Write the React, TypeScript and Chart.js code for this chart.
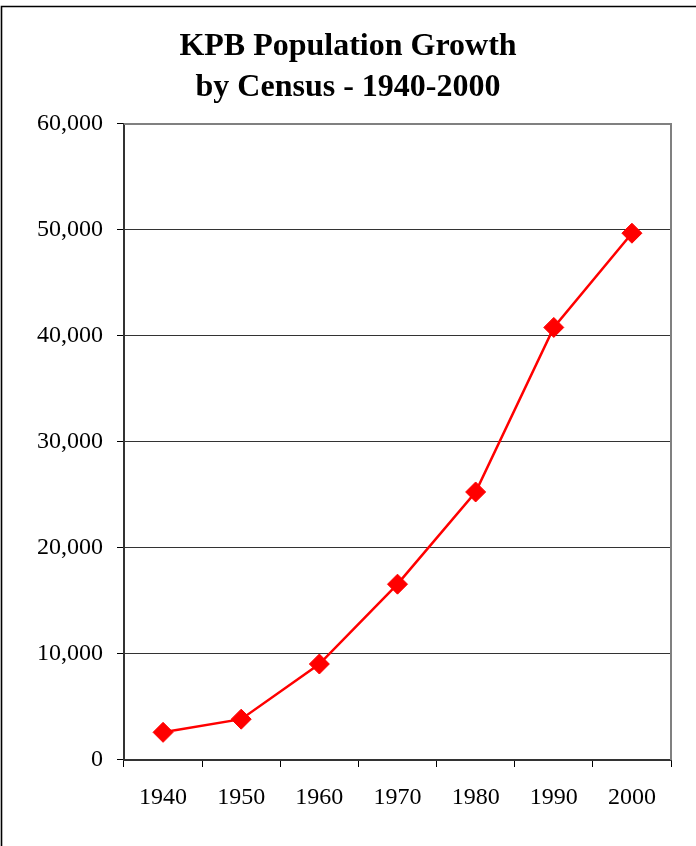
import React, { useEffect, useRef } from "react";
import { Chart, registerables } from "chart.js";

Chart.register(...registerables);

const titleLines = ["KPB Population Growth", "by Census - 1940-2000"];
const years = ["1940", "1950", "1960", "1970", "1980", "1990", "2000"];
const population = [2610, 3850, 9053, 16586, 25282, 40802, 49691];
const yMin = 0;
const yMax = 60000;
const yStep = 10000;

const framePlugin = {
  id: "frame",
  beforeDraw(chart: any) {
    const ctx = chart.ctx;
    ctx.save();
    ctx.fillStyle = "#ffffff";
    ctx.fillRect(0, 0, chart.width, chart.height);
    ctx.restore();
  },
  afterDraw(chart: any) {
    const ctx = chart.ctx;
    const a = chart.chartArea;
    ctx.save();
    ctx.strokeStyle = "#000000";
    ctx.lineWidth = 1.6;
    ctx.beginPath();
    ctx.moveTo(1.5, chart.height + 5);
    ctx.lineTo(1.5, 6.5);
    ctx.lineTo(chart.width + 5, 6.5);
    ctx.stroke();
    ctx.strokeStyle = "#808080";
    ctx.lineWidth = 2;
    ctx.beginPath();
    ctx.moveTo(a.left, a.top);
    ctx.lineTo(a.right, a.top);
    ctx.lineTo(a.right, a.bottom);
    ctx.stroke();
    ctx.restore();
  },
};

export default function App() {
  const ref = useRef<HTMLCanvasElement>(null);
  useEffect(() => {
    if (!ref.current) return;
    const chart = new Chart(ref.current, {
      type: "line",
      data: {
        labels: years,
        datasets: [
          {
            data: population,
            borderColor: "#ff0000",
            backgroundColor: "#ff0000",
            borderWidth: 2.5,
            pointStyle: "rectRot",
            pointRadius: 10,
            pointBorderWidth: 1,
            pointBackgroundColor: "#ff0000",
            pointBorderColor: "#ff0000",
            tension: 0,
          },
        ],
      },
      options: {
        responsive: false,
        animation: false,
        layout: { padding: { left: 25, right: 25, top: 0, bottom: 0 } },
        plugins: {
          legend: { display: false },
          tooltip: { enabled: false },
          title: {
            display: true,
            text: titleLines,
            color: "#000000",
            font: { family: "'Liberation Serif', 'Times New Roman', serif", size: 32, weight: "bold", lineHeight: 1.28 },
            padding: { top: 26, bottom: 16 },
          },
        },
        scales: {
          x: {
            type: "category",
            offset: true,
            grid: {
              offset: true,
              drawOnChartArea: false,
              drawTicks: true,
              tickLength: 7,
              tickColor: "#000000",
              tickWidth: 1,
            },
            border: { display: true, color: "#333333", width: 2 },
            ticks: {
              color: "#000000",
              padding: 16,
              maxRotation: 0,
              font: { family: "'Liberation Serif', 'Times New Roman', serif", size: 24 },
            },
            afterFit(scale: any) {
              scale.height = 86;
            },
          },
          y: {
            min: yMin,
            max: yMax,
            grid: {
              color: "#333333",
              lineWidth: 1,
              drawTicks: true,
              tickLength: 7,
              tickColor: "#000000",
            },
            border: { display: true, color: "#333333", width: 2 },
            ticks: {
              stepSize: yStep,
              color: "#000000",
              padding: 14,
              font: { family: "'Liberation Serif', 'Times New Roman', serif", size: 24 },
              callback: (v: any) => Number(v).toLocaleString("en-US"),
            },
            afterFit(scale: any) {
              scale.width = 99;
            },
          },
        },
      },
      plugins: [framePlugin],
    });
    return () => chart.destroy();
  }, []);
  return (
    <div style={{ position: "absolute", left: 0, top: 0, width: 696, height: 846 }}>
      <canvas ref={ref} width={696} height={846} />
    </div>
  );
}
